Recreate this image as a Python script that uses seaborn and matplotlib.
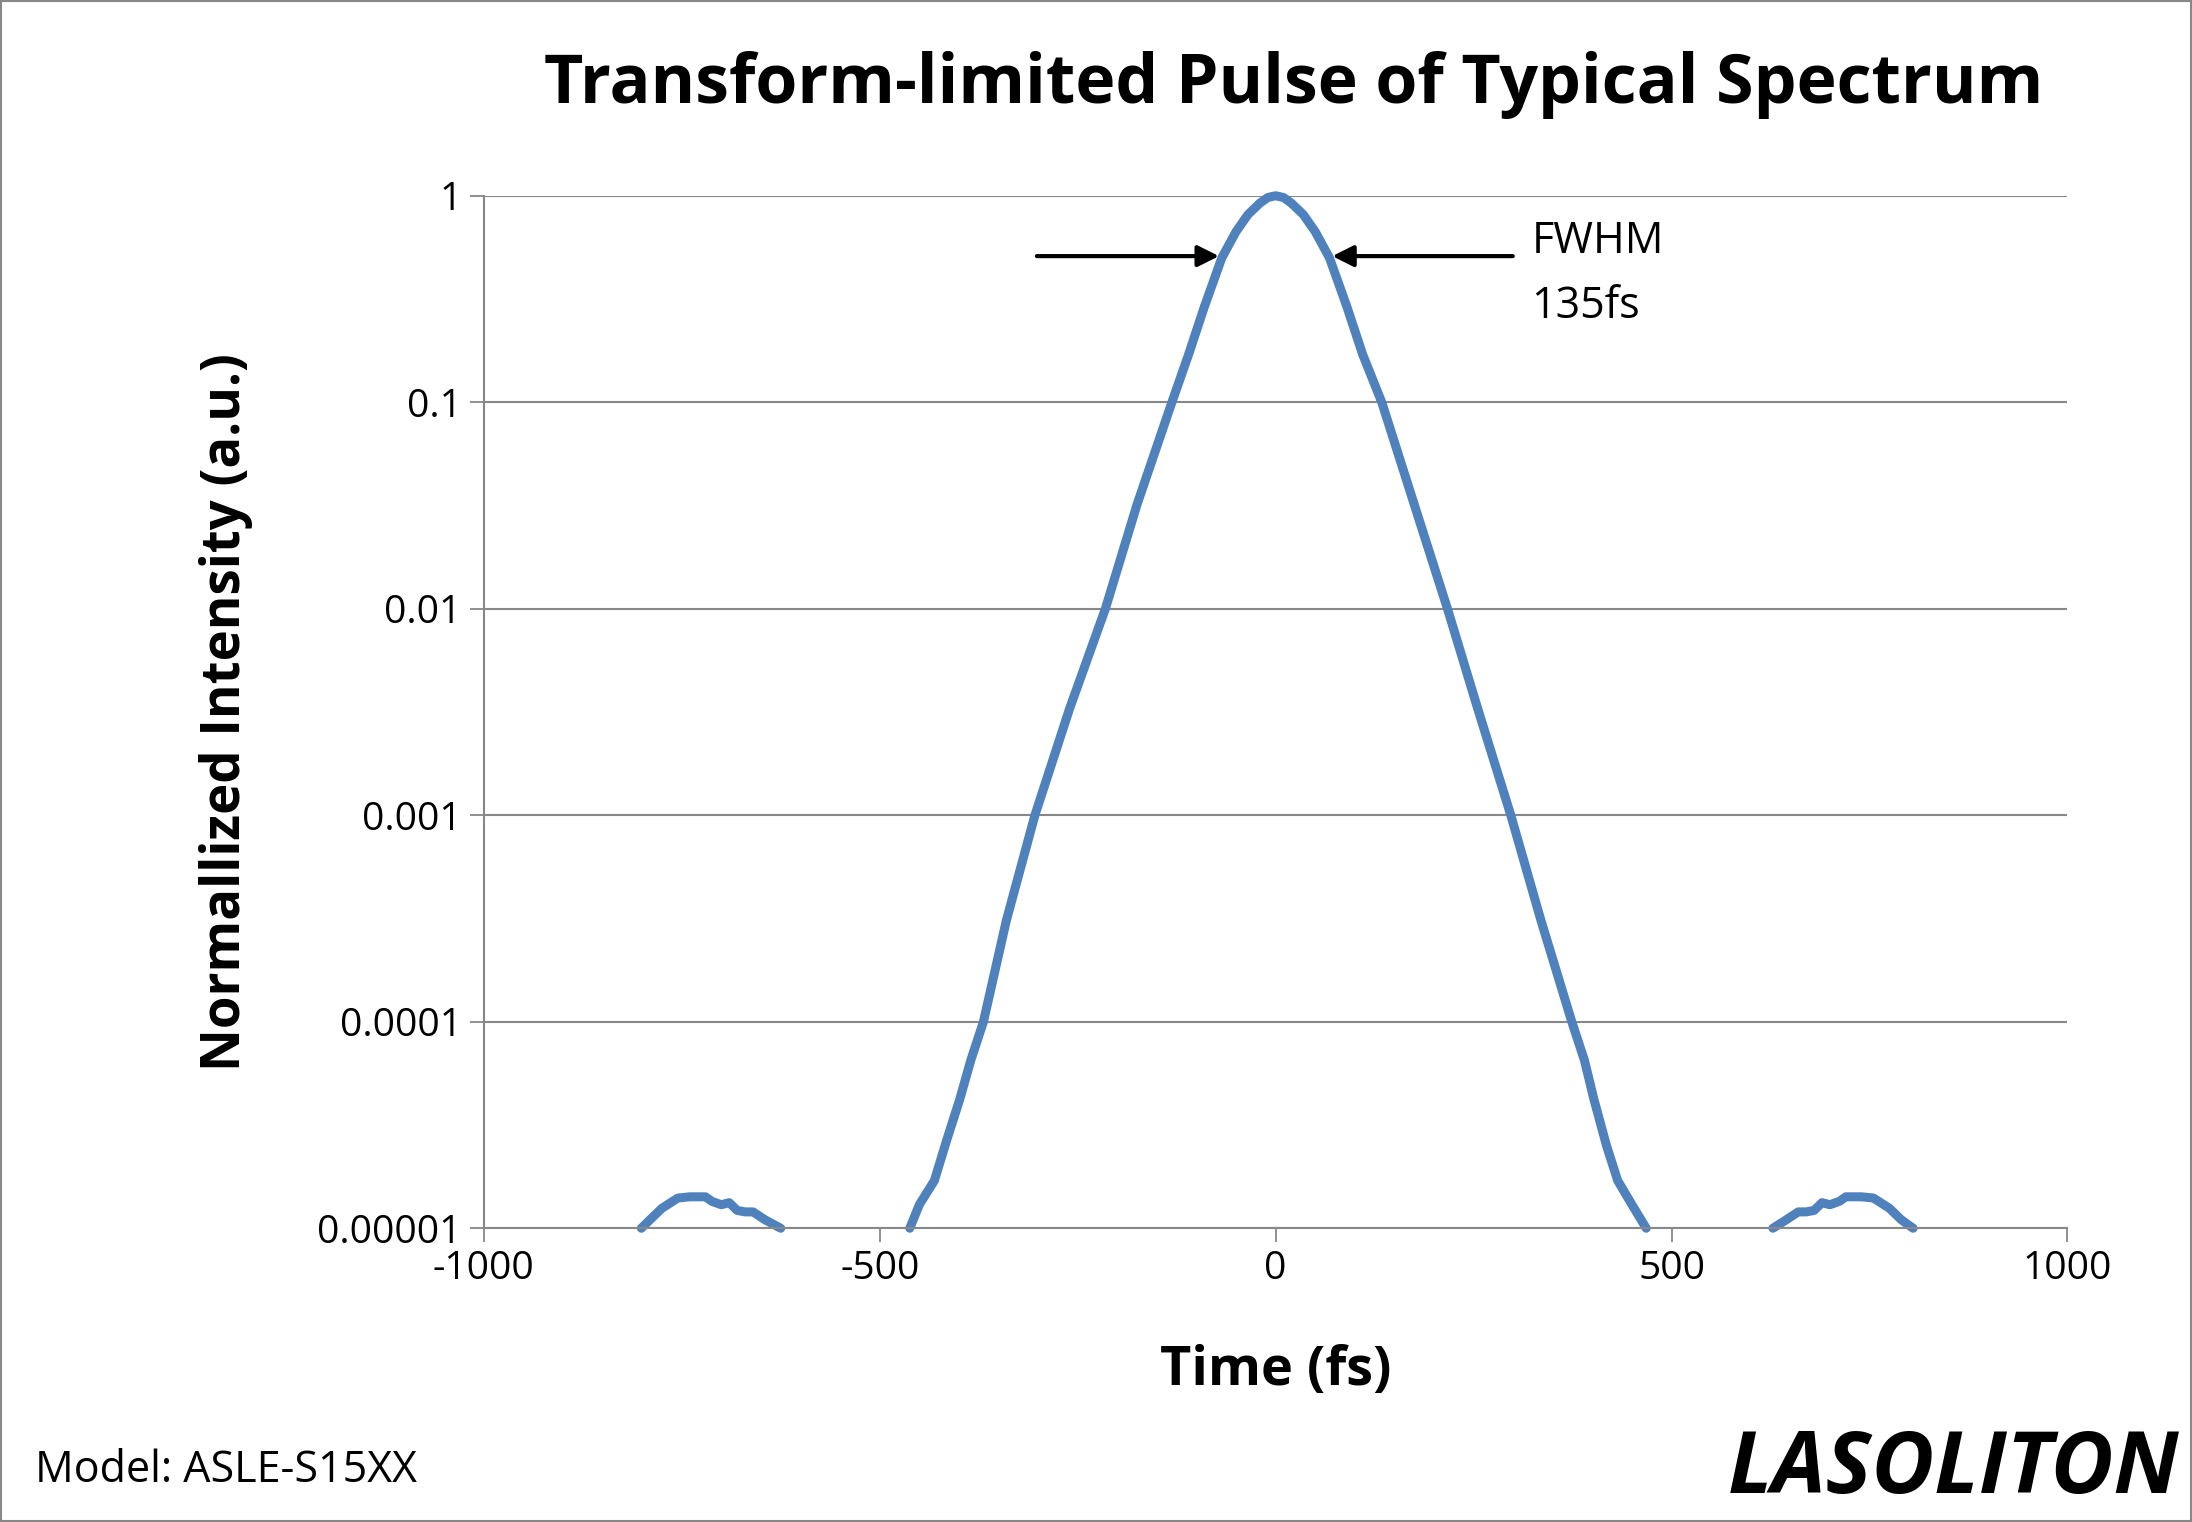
import numpy as np
import pandas as pd
import matplotlib.pyplot as plt
import seaborn as sns
from matplotlib.patches import Rectangle

# main pulse (time in fs, normalized intensity)
pulse_time = [-462, -450, -431, -415, -399, -385, -369, -340, -304, -260, -215, -175,
              -131, -110, -90, -68, -50, -35, -20, -10, 0, 10, 20, 35, 50, 68, 90, 110,
              134, 175, 217, 255, 297, 335, 374, 390, 402, 418, 432, 450, 468]
pulse_int = [1e-5, 1.3e-5, 1.7e-5, 2.7e-5, 4.2e-5, 6.5e-5, 1e-4, 3.1e-4, 1e-3, 3.3e-3,
             1e-2, 3.2e-2, 0.1, 0.17, 0.29, 0.5, 0.67, 0.81, 0.92, 0.98, 1.0, 0.98, 0.92,
             0.81, 0.67, 0.5, 0.29, 0.17, 0.1, 3.2e-2, 1e-2, 3.3e-3, 1e-3, 3.1e-4, 1e-4,
             6.5e-5, 4.2e-5, 2.5e-5, 1.7e-5, 1.3e-5, 1e-5]

# side lobes
left_lobe_time = [-801, -790, -775, -755, -740, -720, -712, -700, -690, -680, -670, -660, -645, -625]
left_lobe_int = [1e-5, 1.1e-5, 1.25e-5, 1.4e-5, 1.42e-5, 1.42e-5, 1.35e-5, 1.3e-5, 1.33e-5,
                 1.22e-5, 1.2e-5, 1.2e-5, 1.1e-5, 1e-5]
right_lobe_time = [628, 645, 660, 670, 680, 690, 700, 712, 720, 740, 755, 775, 790, 805]
right_lobe_int = [1e-5, 1.1e-5, 1.2e-5, 1.2e-5, 1.22e-5, 1.33e-5, 1.3e-5, 1.35e-5, 1.42e-5,
                  1.42e-5, 1.4e-5, 1.25e-5, 1.1e-5, 1e-5]

y_ticks = [1e-5, 1e-4, 1e-3, 1e-2, 1e-1, 1]
y_labels = ["0.00001", "0.0001", "0.001", "0.01", "0.1", "1"]
x_ticks = [-1000, -500, 0, 500, 1000]

blue = "#4f81bd"
plt.rcParams["font.family"] = "Open Sans"

fig = plt.figure(figsize=(21.92, 15.22), dpi=100)
ax = fig.add_axes([0.2207, 0.193, 0.7225, 0.6784])

for t, v in [(pulse_time, pulse_int), (left_lobe_time, left_lobe_int), (right_lobe_time, right_lobe_int)]:
    df = pd.DataFrame({"time": t, "intensity": v})
    sns.lineplot(data=df, x="time", y="intensity", ax=ax, color=blue, lw=6.5,
                 sort=False, solid_capstyle="round", solid_joinstyle="round", clip_on=False)

ax.set_yscale("log")
ax.set_xlim(-1000, 1000)
ax.set_ylim(1e-5, 1)
ax.set_yticks(y_ticks)
ax.set_yticklabels(y_labels)
ax.minorticks_off()
ax.set_xticks(x_ticks)
ax.set_xticklabels([str(x) for x in x_ticks])
ax.tick_params(labelsize=28, length=10, width=1.3, color="#888888", direction="out", pad=6)
ax.grid(axis="y", color="#888888", lw=1.5)
ax.set_axisbelow(True)
for s in ["top", "right"]:
    ax.spines[s].set_visible(False)
for s in ["left", "bottom"]:
    ax.spines[s].set_color("#888888")
    ax.spines[s].set_linewidth(1.5)

ax.set_xlabel("Time (fs)", fontsize=39, fontweight="bold", labelpad=40)
ax.set_ylabel("Normallized Intensity (a.u.)", fontsize=38, fontweight="bold", labelpad=46)

# FWHM arrows
ax.annotate("", xy=(-68, 0.51), xytext=(-305, 0.51),
            arrowprops=dict(arrowstyle="-|>", color="black", lw=3, mutation_scale=32))
ax.annotate("", xy=(68, 0.51), xytext=(303, 0.51),
            arrowprops=dict(arrowstyle="-|>", color="black", lw=3, mutation_scale=32))
ax.text(323, 0.6, "FWHM", fontsize=31, va="center")
ax.text(323, 0.29, "135fs", fontsize=31, va="center")

fig.text(0.59, 0.944, "Transform-limited Pulse of Typical Spectrum", fontsize=49,
         fontweight="bold", ha="center", va="center")
fig.text(0.016, 0.034, "Model: ASLE-S15XX", fontsize=31, va="center")
fig.text(0.994, 0.034, "LASOLITON", fontsize=62, fontweight="bold", style="italic",
         ha="right", va="center")
fig.add_artist(Rectangle((0.0005, 0.0007), 0.999, 0.9986, transform=fig.transFigure,
                         fill=False, ec="#888888", lw=1.5))

fig.savefig("out.png", dpi=100)
